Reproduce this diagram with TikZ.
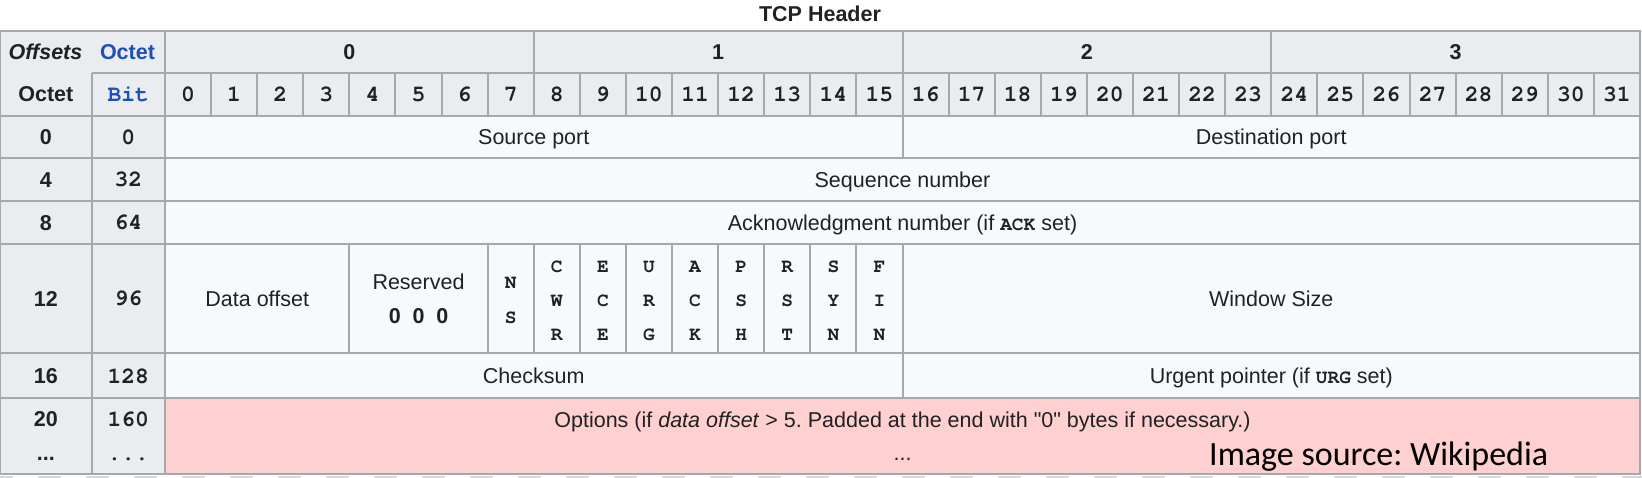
\documentclass[tikz,border=0pt]{standalone}
\usepackage{fontspec}
\setmainfont{Liberation Sans}
\newfontfamily\plainsans{Liberation Sans}
\newfontfamily\carlito{Carlito}
\newfontfamily\monobf{texgyrecursor-bold}[Extension=.otf]
\definecolor{hdrbg}{HTML}{EAECF0}
\definecolor{cellbg}{HTML}{F8F9FA}
\definecolor{pinkbg}{HTML}{FFD0D0}
\definecolor{bord}{HTML}{A2A9B1}
\definecolor{linkblue}{HTML}{1A50B8}
\definecolor{txt}{HTML}{202122}
\definecolor{dashc}{HTML}{D3D6DA}
\frenchspacing
\begin{document}
\begin{tikzpicture}[x=1pt,y=-1pt,
  lbl/.style={inner sep=0pt, anchor=base, text=txt, font=\fontsize{21.5}{26}\selectfont},
  lblb/.style={lbl, font=\fontsize{21.5}{26}\selectfont\bfseries},
  monob/.style={inner sep=0pt, anchor=base, text=txt, font=\fontsize{23}{28}\selectfont\monobf},
  flagl/.style={inner sep=0pt, anchor=base, text=txt, font=\fontsize{19.5}{22}\selectfont\monobf},
  tline/.style={draw=bord, line width=2pt},
]
\def\bw{46.09375}
\useasboundingbox (0,0) rectangle (1642,478);
% backgrounds
\fill[hdrbg] (0,30.7) rectangle (1640,474);
\fill[cellbg] (165,115.7) rectangle (1640,398.3);
\fill[pinkbg] (165,398.3) rectangle (1640,474);
% horizontal lines
\draw[tline] (91.7,72.7) -- (1640,72.7);
\foreach \yy in {115.7,158.3,201,244,353.5,398.3}
  \draw[tline] (0,\yy) -- (1640,\yy);
% vertical lines
\draw[tline] (91.7,72.7) -- (91.7,474);
\draw[tline] (165,30.7) -- (165,474);
\foreach \k in {8,16,24}
  \draw[tline] ({165+\k*\bw},30.7) -- ({165+\k*\bw},72.7);
\foreach \k in {1,...,31}
  \draw[tline] ({165+\k*\bw},72.7) -- ({165+\k*\bw},115.7);
\draw[tline] ({165+16*\bw},115.7) -- ({165+16*\bw},158.3);
\foreach \k in {4,7,8,9,10,11,12,13,14,15,16}
  \draw[tline] ({165+\k*\bw},244) -- ({165+\k*\bw},353.5);
\draw[tline] ({165+16*\bw},353.5) -- ({165+16*\bw},398.3);
\draw[tline] (0,30.7) rectangle (1640,474);
% bottom dashed remnant
\draw[dashc, line width=2pt, dash pattern=on 23pt off 25pt, dash phase=10pt] (0,477) -- (1642,477);

% title
\node[lblb] (title) at (820,21.5) {TCP Header};
% top-left header
\node[lblb, font=\fontsize{21.5}{26}\selectfont\bfseries\itshape] (offsets) at (45.5,59.4) {Offsets};
\node[lblb, text=linkblue] (octeth) at (127.5,59.4) {Octet};
\node[lblb] (octetc) at (45.8,101.9) {Octet};
\node[monob, text=linkblue] (bith) at (128.3,101.5) {Bit};
% group headers
\foreach \g in {0,1,2,3}
  \node[lblb] (grp\g) at ({165+(8*\g+4)*\bw},59.4) {\g};
% bit headers
\foreach \k in {0,...,31}
  \node[monob] (bit\k) at ({165+(\k+0.5)*\bw},101.5) {\k};
% left columns
\node[lblb] (o0) at (45.8,144.7) {0};
\node[lblb] (o4) at (45.8,187.3) {4};
\node[lblb] (o8) at (45.8,230.2) {8};
\node[lblb] (o12) at (45.8,306.4) {12};
\node[lblb] (o16) at (45.8,383.6) {16};
\node[lblb] (o20) at (45.8,426.7) {20};
\node[lblb] (odots) at (45.8,460) {...};
\node[monob] (b0) at (128.3,144.3) {0};
\node[monob] (b32) at (128.3,187) {32};
\node[monob] (b64) at (128.3,229.8) {64};
\node[monob] (b96) at (128.3,306) {96};
\node[monob] (b128) at (128.3,383.2) {128};
\node[monob] (b160) at (128.3,426.3) {160};
\node[monob] (bdots) at (128.3,460) {...};
% row 0
\node[lbl] (srcport) at ({165+8*\bw},144.7) {Source port};
\node[lbl] (dstport) at ({165+24*\bw},144.7) {Destination port};
% row 4
\node[lbl] (seq) at (902.5,187.3) {Sequence number};
% row 8
\node[lbl] (ack) at (902.5,230.2) {Acknowledgment number (if {\fontsize{19.5}{22}\selectfont\monobf ACK} set)};
% row 12
\node[lbl] (doff) at ({165+2*\bw},306.4) {Data offset};
\node[lbl] (resv) at ({165+5.5*\bw},289.5) {Reserved};
\node[lblb] (resvz) at ({165+5.5*\bw},323.7) {0\hspace{0.55em}0\hspace{0.55em}0};
\node[flagl] (ns1) at ({165+7.5*\bw},288.5) {N};
\node[flagl] (ns2) at ({165+7.5*\bw},323.5) {S};
\foreach \k/\a/\b/\c in {8/C/W/R,9/E/C/E,10/U/R/G,11/A/C/K,12/P/S/H,13/R/S/T,14/S/Y/N,15/F/I/N}{
  \node[flagl] (f\k a) at ({165+(\k+0.5)*\bw},272.5) {\a};
  \node[flagl] (f\k b) at ({165+(\k+0.5)*\bw},306.5) {\b};
  \node[flagl] (f\k c) at ({165+(\k+0.5)*\bw},340.5) {\c};
}
\node[lbl] (win) at ({165+24*\bw},306.4) {Window Size};
% row 16
\node[lbl] (chk) at ({165+8*\bw},383.6) {Checksum};
\node[lbl] (urg) at ({165+24*\bw},383.6) {Urgent pointer (if {\fontsize{19.5}{22}\selectfont\monobf URG} set)};
% row 20
\node[lbl] (opt) at (902.5,427.7) {Options (if \textit{data offset} > 5. Padded at the end with {\plainsans"}0{\plainsans"} bytes if necessary.)};
\node[lbl] (optdots) at (902.5,460) {...};
% overlay
\node[inner sep=0pt, anchor=base west, font=\fontsize{34}{38}\selectfont\carlito, text=black] (src) at (1209,465) {Image source: Wikipedia};
\end{tikzpicture}
\end{document}
